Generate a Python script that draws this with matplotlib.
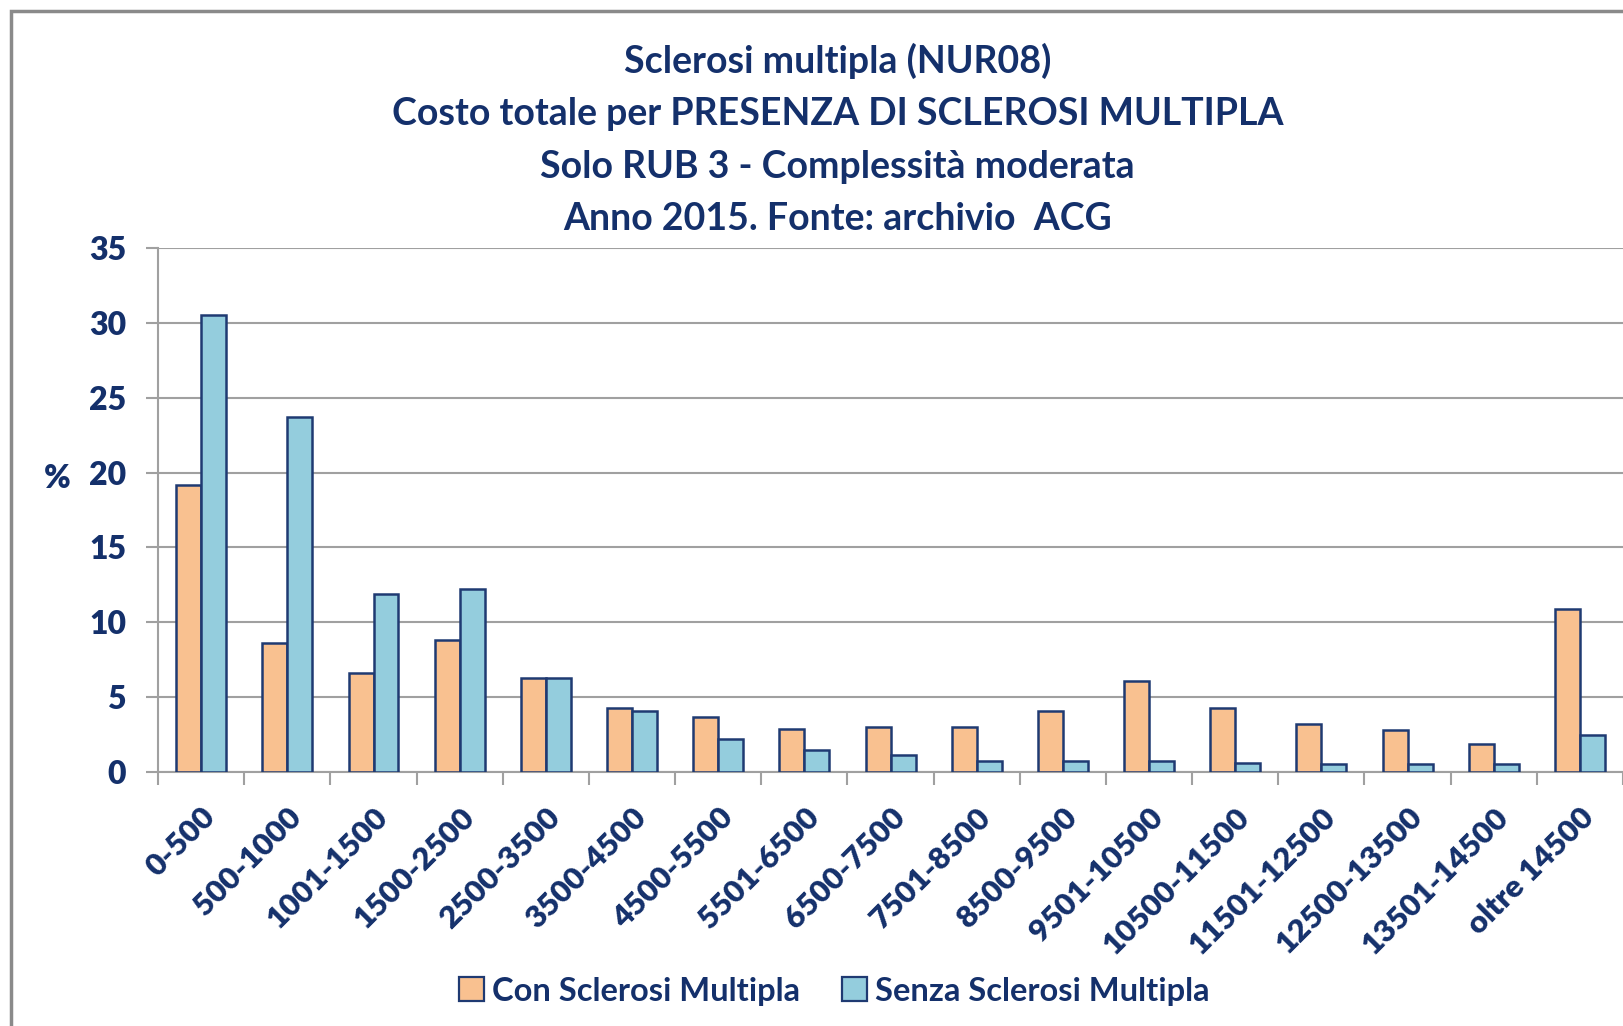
import numpy as np
import matplotlib
matplotlib.use("Agg")
import matplotlib.pyplot as plt
from matplotlib.patches import Rectangle, Patch

# data
categorie = ["0-500", "500-1000", "1001-1500", "1500-2500", "2500-3500",
             "3500-4500", "4500-5500", "5501-6500", "6500-7500", "7501-8500",
             "8500-9500", "9501-10500", "10500-11500", "11501-12500",
             "12500-13500", "13501-14500", "oltre 14500"]
con_sm = [19.2, 8.6, 6.6, 8.8, 6.3, 4.3, 3.7, 2.9, 3.0, 3.0,
          4.1, 6.1, 4.3, 3.2, 2.8, 1.9, 10.9]
senza_sm = [30.5, 23.7, 11.9, 12.2, 6.3, 4.1, 2.2, 1.5, 1.1, 0.7,
            0.7, 0.7, 0.6, 0.5, 0.5, 0.5, 2.5]
titolo = ("Sclerosi multipla (NUR08)\n"
          "Costo totale per PRESENZA DI SCLEROSI MULTIPLA\n"
          "Solo RUB 3 - Complessità moderata\n"
          "Anno 2015. Fonte: archivio  ACG")

navy = '#14306b'
orange = '#f9c190'
blue = '#94cddd'
edge = '#1f3a72'
grey = '#a0a0a0'

plt.rcParams['font.family'] = ['Lato', 'DejaVu Sans']
plt.rcParams['font.weight'] = 'bold'

fig = plt.figure(figsize=(16.23, 10.26), dpi=100)
ax = fig.add_axes([0.0974, 0.2476, 0.9026, 0.5107])

x = np.arange(len(categorie))
w = 0.29
ax.bar(x - w/2, con_sm, w, color=orange, edgecolor=edge, linewidth=1.8,
       zorder=3, label='Con Sclerosi Multipla')
ax.bar(x + w/2, senza_sm, w, color=blue, edgecolor=edge, linewidth=1.8,
       zorder=3, label='Senza Sclerosi Multipla')

ax.set_xlim(-0.5, len(categorie) - 0.5)
ax.set_ylim(0, 35)
ax.set_yticks(range(0, 36, 5))
ax.yaxis.grid(True, color=grey, linewidth=1.5, zorder=0)

# ticks between categories, labels at the centres
ax.set_xticks(np.arange(len(categorie) + 1) - 0.5)
ax.set_xticklabels([])
ax.set_xticks(x, minor=True)
ax.set_xticklabels(categorie, minor=True, rotation=45, ha='right',
                   rotation_mode='anchor', fontsize=22.5, color=navy,
                   fontweight='heavy')
ax.tick_params(axis='x', which='minor', length=0, pad=22)
ax.tick_params(axis='x', which='major', length=9, width=1.5, color=grey)
ax.tick_params(axis='y', length=9, width=1.5, color=grey, labelsize=23,
               labelcolor=navy, pad=14)
for t in ax.get_yticklabels():
    t.set_fontweight('heavy')

for s in ['top', 'right']:
    ax.spines[s].set_visible(False)
ax.spines['left'].set_color(grey)
ax.spines['left'].set_linewidth(1.5)
ax.spines['bottom'].set_color(grey)
ax.spines['bottom'].set_linewidth(1.5)

ax.set_ylabel('%', rotation=0, fontsize=23, color=navy, fontweight='heavy',
              va='center', ha='center')
ax.yaxis.set_label_coords(-0.069, 0.56)

fig.text(0.516, 0.958, titolo, ha='center', va='top', fontsize=27,
         color=navy, fontweight='bold', linespacing=1.65)

handles = [Patch(facecolor=orange, edgecolor=edge, linewidth=1.6),
           Patch(facecolor=blue, edgecolor=edge, linewidth=1.6)]
fig.legend(handles, ['Con Sclerosi Multipla', 'Senza Sclerosi Multipla'],
           loc='center', bbox_to_anchor=(0.514, 0.034), ncol=2, frameon=False,
           handlelength=0.75, handleheight=0.75, handletextpad=0.25,
           columnspacing=1.3, prop={'size': 23.5, 'weight': 'bold'},
           labelcolor=navy)

# chart area border (cut at right and bottom in the reference)
fig.patches.append(Rectangle((0.007, -0.5), 2, 1.489, transform=fig.transFigure,
                             fill=False, edgecolor='#8a8a8a', linewidth=2.5))

fig.savefig('out.png', dpi=100)
